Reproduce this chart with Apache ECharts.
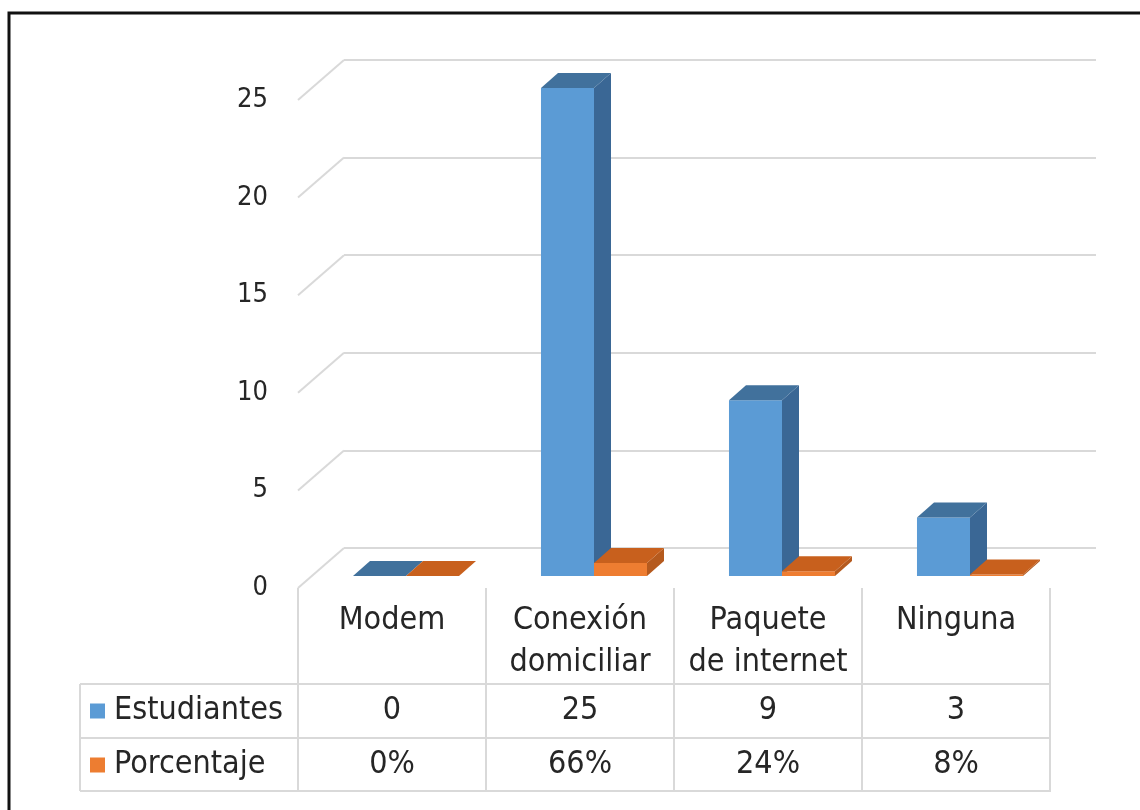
<!DOCTYPE html>
<html>
<head>
<meta charset="utf-8">
<script src="https://cdn.jsdelivr.net/npm/echarts@6/dist/echarts.min.js"></script>
<style>
  html, body { margin: 0; padding: 0; background: #fff; }
  #main { width: 1140px; height: 810px; }
</style>
</head>
<body>
<div id="main"></div>
<script>
var categories = ['Modem', 'Conexión\ndomiciliar', 'Paquete\nde internet', 'Ninguna'];
var estudiantes = [0, 25, 9, 3];
var porcentaje = [0, 0.66, 0.24, 0.08];
var yTicks = [0, 5, 10, 15, 20, 25];

var FONT = "'Liberation Sans Narrow', 'DejaVu Sans Condensed', 'Liberation Sans', sans-serif";
var TEXT = '#262626';
var GRID_LINE = '#d9d9d9';

// 3d look: bars sit a bit in front of the back wall
var SHIFT_X = -32, SHIFT_Y = 28;
var DEPTH_X = 17, DEPTH_Y = -15;

function barRenderer(onLeft, front, top, side) {
    return function (params, api) {
        var idx = api.value(0);
        var val = api.value(1);
        var base = api.coord([idx, 0]);
        var peak = api.coord([idx, val]);
        var bw = api.size([1, 0])[0] * 0.282;
        var x0 = base[0] + (onLeft ? -bw : 0) + SHIFT_X;
        var x1 = x0 + bw;
        var yb = base[1] + SHIFT_Y;
        var yt = peak[1] + SHIFT_Y;
        return {
            type: 'group',
            children: [
                {
                    type: 'rect',
                    shape: { x: x0, y: yt, width: bw, height: yb - yt },
                    style: { fill: front }
                },
                {
                    type: 'polygon',
                    shape: { points: [[x1, yt], [x1 + DEPTH_X, yt + DEPTH_Y], [x1 + DEPTH_X, yb + DEPTH_Y], [x1, yb]] },
                    style: { fill: side }
                },
                {
                    type: 'polygon',
                    shape: { points: [[x0, yt], [x0 + DEPTH_X, yt + DEPTH_Y], [x1 + DEPTH_X, yt + DEPTH_Y], [x1, yt]] },
                    style: { fill: top }
                }
            ]
        };
    };
}

var chartDom = document.getElementById('main');
var myChart = echarts.init(chartDom);
var option;

option = {
    backgroundColor: '#fff',
    animation: false,
    textStyle: { fontFamily: FONT },
    grid: [
        { left: 344, top: 60, width: 752, height: 488 },
        { left: 298, top: 100, width: 752, height: 488 }
    ],
    legend: {
        data: ['Estudiantes', 'Porcentaje'],
        orient: 'vertical',
        left: 90,
        top: 691,
        padding: 0,
        itemWidth: 15,
        itemHeight: 15,
        itemGap: 14,
        icon: 'rect',
        selectedMode: false,
        textStyle: { fontFamily: FONT, fontSize: 32, lineHeight: 40, color: TEXT, padding: [0, 0, 0, 4] }
    },
    xAxis: [
        {
            gridIndex: 0, type: 'category', data: categories,
            axisLine: { show: false }, axisTick: { show: false }, axisLabel: { show: false }
        },
        {
            gridIndex: 1, type: 'category', data: categories, position: 'bottom',
            axisLine: { show: false },
            axisTick: { show: true, interval: 0, length: 204, lineStyle: { color: GRID_LINE, width: 2 } },
            axisLabel: { interval: 0, margin: 12, fontFamily: FONT, fontSize: 32, lineHeight: 42, color: TEXT }
        },
        {
            gridIndex: 1, type: 'category', data: categories, position: 'bottom', offset: 96,
            axisLine: { show: false }, axisTick: { show: false },
            axisLabel: {
                interval: 0, margin: 7, fontFamily: FONT, fontSize: 32, lineHeight: 40, color: TEXT,
                formatter: function (v, i) { return String(estudiantes[i]); }
            }
        },
        {
            gridIndex: 1, type: 'category', data: categories, position: 'bottom', offset: 150,
            axisLine: { show: false }, axisTick: { show: false },
            axisLabel: {
                interval: 0, margin: 7, fontFamily: FONT, fontSize: 32, lineHeight: 40, color: TEXT,
                formatter: function (v, i) { return Math.round(porcentaje[i] * 100) + '%'; }
            }
        }
    ],
    yAxis: [
        {
            gridIndex: 0, type: 'value', min: 0, max: 25, interval: 5,
            axisLine: { show: false }, axisTick: { show: false }, axisLabel: { show: false },
            splitLine: { lineStyle: { color: GRID_LINE, width: 2 } }
        },
        {
            gridIndex: 1, type: 'value', min: 0, max: 25, interval: 5,
            axisLine: { show: false }, axisTick: { show: false },
            splitLine: { show: false },
            axisLabel: { margin: 30, fontFamily: FONT, fontSize: 27, color: TEXT }
        }
    ],
    graphic: [
        { type: 'rect', z: 100, shape: { x: 9, y: 13, width: 1300, height: 1000 }, style: { fill: 'none', stroke: '#111', lineWidth: 3 } },
        { type: 'line', shape: { x1: 80, y1: 684, x2: 1050, y2: 684 }, style: { stroke: GRID_LINE, lineWidth: 2 } },
        { type: 'line', shape: { x1: 80, y1: 738, x2: 1050, y2: 738 }, style: { stroke: GRID_LINE, lineWidth: 2 } },
        { type: 'line', shape: { x1: 80, y1: 791, x2: 1050, y2: 791 }, style: { stroke: GRID_LINE, lineWidth: 2 } },
        { type: 'line', shape: { x1: 80, y1: 684, x2: 80, y2: 791 }, style: { stroke: GRID_LINE, lineWidth: 2 } }
    ],
    series: [
        {
            name: 'Walls',
            type: 'custom',
            xAxisIndex: 0, yAxisIndex: 0,
            silent: true,
            data: yTicks.map(function (v) { return [0, v]; }),
            renderItem: function (params, api) {
                var p = api.coord([0, api.value(1)]);
                var x = p[0] - api.size([1, 0])[0] / 2;
                return {
                    type: 'line',
                    shape: { x1: x, y1: p[1], x2: x - 46, y2: p[1] + 40 },
                    style: { stroke: GRID_LINE, lineWidth: 2 }
                };
            }
        },
        {
            name: 'Estudiantes',
            type: 'custom',
            xAxisIndex: 0, yAxisIndex: 0,
            itemStyle: { color: '#5b9bd5' },
            data: estudiantes.map(function (v, i) { return [i, v]; }),
            renderItem: barRenderer(true, '#5b9bd5', '#41719c', '#3a6795')
        },
        {
            name: 'Porcentaje',
            type: 'custom',
            xAxisIndex: 0, yAxisIndex: 0,
            itemStyle: { color: '#ed7d31' },
            data: porcentaje.map(function (v, i) { return [i, v]; }),
            renderItem: barRenderer(false, '#ee7d31', '#c8601d', '#b55a1e')
        }
    ]
};

option && myChart.setOption(option);
</script>
</body>
</html>
